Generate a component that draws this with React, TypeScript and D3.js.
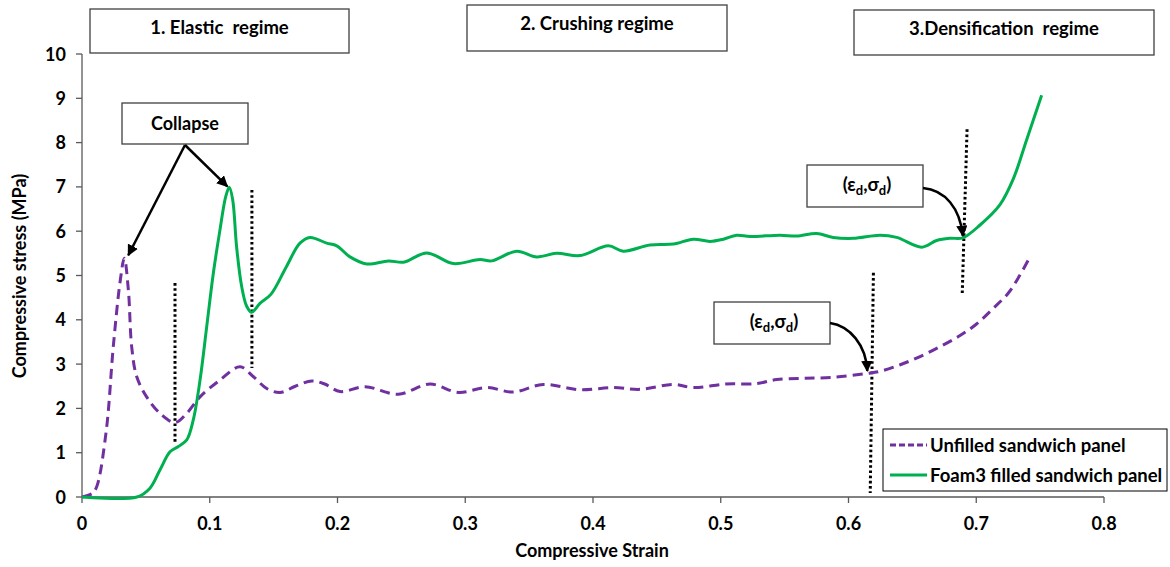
import React from "react";
import * as d3 from "d3";

const xTicks = [0, 0.1, 0.2, 0.3, 0.4, 0.5, 0.6, 0.7, 0.8];
const yTicks = [0, 1, 2, 3, 4, 5, 6, 7, 8, 9, 10];

const unfilledStrain = [0, 0.008, 0.0115, 0.019, 0.0245, 0.03, 0.0331, 0.0363, 0.0389, 0.0428, 0.0506, 0.061, 0.0728, 0.082, 0.0924, 0.108, 0.1237, 0.134, 0.1446, 0.155, 0.167, 0.18, 0.19, 0.202, 0.2215, 0.2476, 0.2724, 0.2946, 0.3167, 0.3376, 0.361, 0.3898, 0.416, 0.4368, 0.4629, 0.4785, 0.504, 0.528, 0.5437, 0.5646, 0.588, 0.6145, 0.625, 0.64, 0.656, 0.672, 0.687, 0.7, 0.713, 0.725, 0.734, 0.742];
const unfilledStress = [0, 0.08, 0.23, 1.5, 3.4, 4.9, 5.39, 4.67, 3.39, 2.72, 2.26, 1.89, 1.68, 1.89, 2.26, 2.64, 2.94, 2.72, 2.45, 2.36, 2.5, 2.62, 2.55, 2.38, 2.49, 2.32, 2.55, 2.36, 2.47, 2.37, 2.54, 2.42, 2.47, 2.43, 2.54, 2.47, 2.55, 2.56, 2.65, 2.68, 2.7, 2.79, 2.84, 2.98, 3.17, 3.4, 3.64, 3.9, 4.25, 4.6, 5.0, 5.42];

const foamStrain = [0, 0.043, 0.0532, 0.061, 0.0689, 0.0754, 0.082, 0.0871, 0.0924, 0.0976, 0.1028, 0.108, 0.1125, 0.1153, 0.118, 0.121, 0.125, 0.129, 0.1328, 0.1393, 0.148, 0.16, 0.1706, 0.1785, 0.1915, 0.1994, 0.2098, 0.2229, 0.2399, 0.2517, 0.2698, 0.2906, 0.3115, 0.3207, 0.3402, 0.3559, 0.3715, 0.3898, 0.412, 0.4237, 0.4446, 0.4629, 0.4785, 0.4916, 0.502, 0.5124, 0.523, 0.5464, 0.5594, 0.575, 0.588, 0.6038, 0.6246, 0.6377, 0.6573, 0.669, 0.6795, 0.6895, 0.703, 0.7186, 0.729, 0.7394, 0.7512];
const foamStress = [0, 0, 0.2, 0.61, 1.02, 1.14, 1.29, 1.74, 2.64, 3.84, 5.05, 6.03, 6.78, 6.99, 6.7, 5.65, 4.75, 4.3, 4.17, 4.37, 4.58, 5.2, 5.73, 5.86, 5.73, 5.67, 5.42, 5.26, 5.33, 5.3, 5.51, 5.27, 5.36, 5.33, 5.55, 5.42, 5.5, 5.45, 5.67, 5.55, 5.69, 5.71, 5.82, 5.77, 5.82, 5.91, 5.88, 5.91, 5.89, 5.95, 5.86, 5.84, 5.91, 5.86, 5.64, 5.79, 5.84, 5.85, 6.14, 6.6, 7.18, 8.06, 9.07];

// dotted marker lines: [x1, y1, x2, y2] in data units
const dottedLines = [
  [0.0728, 4.83, 0.0728, 1.22],
  [0.133, 6.93, 0.133, 2.91],
  [0.6928, 8.3, 0.689, 4.56],
  [0.6195, 5.06, 0.617, 0.09],
];

const seriesNames = ["Unfilled sandwich panel", "Foam3 filled sandwich panel"];
const regimeLabels = ["1. Elastic  regime", "2. Crushing regime", "3.Densification  regime"];

const W = 1170;
const H = 567;
const FONT = "Lato, 'Open Sans', sans-serif";

export default function App() {
  const x = d3.scaleLinear().domain([0, 0.8]).range([82, 1104]);
  const y = d3.scaleLinear().domain([0, 10]).range([497, 54]);
  const line = d3
    .line<[number, number]>()
    .x((d) => x(d[0]))
    .y((d) => y(d[1]))
    .curve(d3.curveCatmullRom.alpha(0.5));

  const unfilled: [number, number][] = unfilledStrain.map((s, i) => [s, unfilledStress[i]]);
  const foam: [number, number][] = foamStrain.map((s, i) => [s, foamStress[i]]);

  const purple = "#7030A0";
  const green = "#00B050";
  const axisColor = "#595959";

  const pPeak = [x(0.0331) + 4, y(5.39) - 3];
  const gPeak = [x(0.1153) - 2, y(6.99) - 1];
  const cx = 185, cy = 145;

  const gD = [x(0.6895), y(5.85) - 2];
  const pD = [x(0.6155) - 1, y(2.8) - 2];

  const boxes = [
    { x: 90, y: 9, w: 259, h: 44, label: regimeLabels[0] },
    { x: 467, y: 5, w: 260, h: 46, label: regimeLabels[1] },
    { x: 854, y: 10, w: 300, h: 45, label: regimeLabels[2] },
  ];

  const edLabel = (bx: number, by: number) => (
    <g>
      <rect x={bx} y={by} width={116} height={42} fill="#fff" stroke="#404040" strokeWidth={1.3} />
      <text x={bx + 60} y={by + 26} textAnchor="middle" fontFamily={FONT} fontWeight={700} fontSize={18.5} fill="#000">
        (ε<tspan fontSize={13} dy={4}>d</tspan>
        <tspan dy={-4}>,σ</tspan>
        <tspan fontSize={13} dy={4}>d</tspan>
        <tspan dy={-4}>)</tspan>
      </text>
    </g>
  );

  return (
    <svg width={W} height={H} style={{ position: "absolute", left: 0, top: 0, background: "#fff" }}>
      <defs>
        <marker id="arr" viewBox="0 0 10 10" refX="9" refY="5" markerWidth="4.5" markerHeight="4.5" orient="auto" markerUnits="strokeWidth">
          <path d="M0,0 L10,5 L0,10 z" fill="#000" />
        </marker>
      </defs>

      {/* axes */}
      <line x1={x(0)} x2={x(0.8)} y1={y(0)} y2={y(0)} stroke={axisColor} strokeWidth={1.3} />
      <line x1={x(0)} x2={x(0)} y1={y(0)} y2={y(10)} stroke={axisColor} strokeWidth={1.3} />
      {xTicks.map((t) => (
        <g key={"xt" + t}>
          <line x1={x(t)} x2={x(t)} y1={y(0)} y2={y(0) + 6} stroke={axisColor} strokeWidth={1.3} />
          <text x={x(t)} y={y(0) + 33} textAnchor="middle" fontFamily={FONT} fontWeight={700} fontSize={18} fill="#000">
            {t === 0 ? "0" : String(t)}
          </text>
        </g>
      ))}
      {yTicks.map((t) => (
        <g key={"yt" + t}>
          <line x1={x(0) - 6} x2={x(0)} y1={y(t)} y2={y(t)} stroke={axisColor} strokeWidth={1.3} />
          <text x={x(0) - 16} y={y(t) + 6.5} textAnchor="end" fontFamily={FONT} fontWeight={700} fontSize={18} fill="#000">
            {t}
          </text>
        </g>
      ))}
      <text x={592} y={557} textAnchor="middle" fontFamily={FONT} fontWeight={700} fontSize={18} fill="#000">
        Compressive Strain
      </text>
      <text transform={`translate(26,${276}) rotate(-90)`} textAnchor="middle" fontFamily={FONT} fontWeight={700} fontSize={18} fill="#000">
        Compressive stress (MPa)
      </text>

      {/* dotted lines */}
      {dottedLines.map((d, i) => (
        <line key={"dl" + i} x1={x(d[0])} y1={y(d[1])} x2={x(d[2])} y2={y(d[3])} stroke="#000" strokeWidth={3} strokeDasharray="2.6 2.6" />
      ))}

      {/* series */}
      <path d={line(unfilled) || ""} fill="none" stroke={purple} strokeWidth={3} strokeDasharray="10 6" />
      <path d={line(foam) || ""} fill="none" stroke={green} strokeWidth={3} />

      {/* regime boxes */}
      {boxes.map((b, i) => (
        <g key={"b" + i}>
          <rect x={b.x} y={b.y} width={b.w} height={b.h} fill="#fff" stroke="#404040" strokeWidth={1.3} />
          <text x={b.x + b.w / 2} y={b.y + 25} textAnchor="middle" fontFamily={FONT} fontWeight={700} fontSize={18.5} fill="#000" style={{ whiteSpace: "pre" }}>
            {b.label}
          </text>
        </g>
      ))}

      {/* collapse */}
      <rect x={122} y={103} width={126} height={41} fill="#fff" stroke="#404040" strokeWidth={1.3} />
      <text x={185} y={130} textAnchor="middle" fontFamily={FONT} fontWeight={700} fontSize={18} fill="#000">
        Collapse
      </text>
      <line x1={cx} y1={cy} x2={pPeak[0]} y2={pPeak[1]} stroke="#000" strokeWidth={2.5} markerEnd="url(#arr)" />
      <line x1={cx} y1={cy} x2={gPeak[0]} y2={gPeak[1]} stroke="#000" strokeWidth={2.5} markerEnd="url(#arr)" />

      {/* densification annotations */}
      {edLabel(807, 165)}
      <path d={`M923,188 C945,190 960,208 ${gD[0]},${gD[1]}`} fill="none" stroke="#000" strokeWidth={2.5} markerEnd="url(#arr)" />
      {edLabel(714, 302)}
      <path d={`M830,323 C850,326 866,345 ${pD[0]},${pD[1]}`} fill="none" stroke="#000" strokeWidth={2.5} markerEnd="url(#arr)" />

      {/* legend */}
      <rect x={883} y={429} width={284} height={62} fill="#fff" stroke="#000" strokeWidth={1} />
      <line x1={890} x2={927} y1={445} y2={445} stroke={purple} strokeWidth={3} strokeDasharray="6 3" />
      <line x1={890} x2={927} y1={475} y2={475} stroke={green} strokeWidth={3} />
      <text x={930} y={451.5} fontFamily={FONT} fontWeight={700} fontSize={18.5} fill="#000">
        {seriesNames[0]}
      </text>
      <text x={930} y={481.5} fontFamily={FONT} fontWeight={700} fontSize={18.5} fill="#000">
        {seriesNames[1]}
      </text>
    </svg>
  );
}
